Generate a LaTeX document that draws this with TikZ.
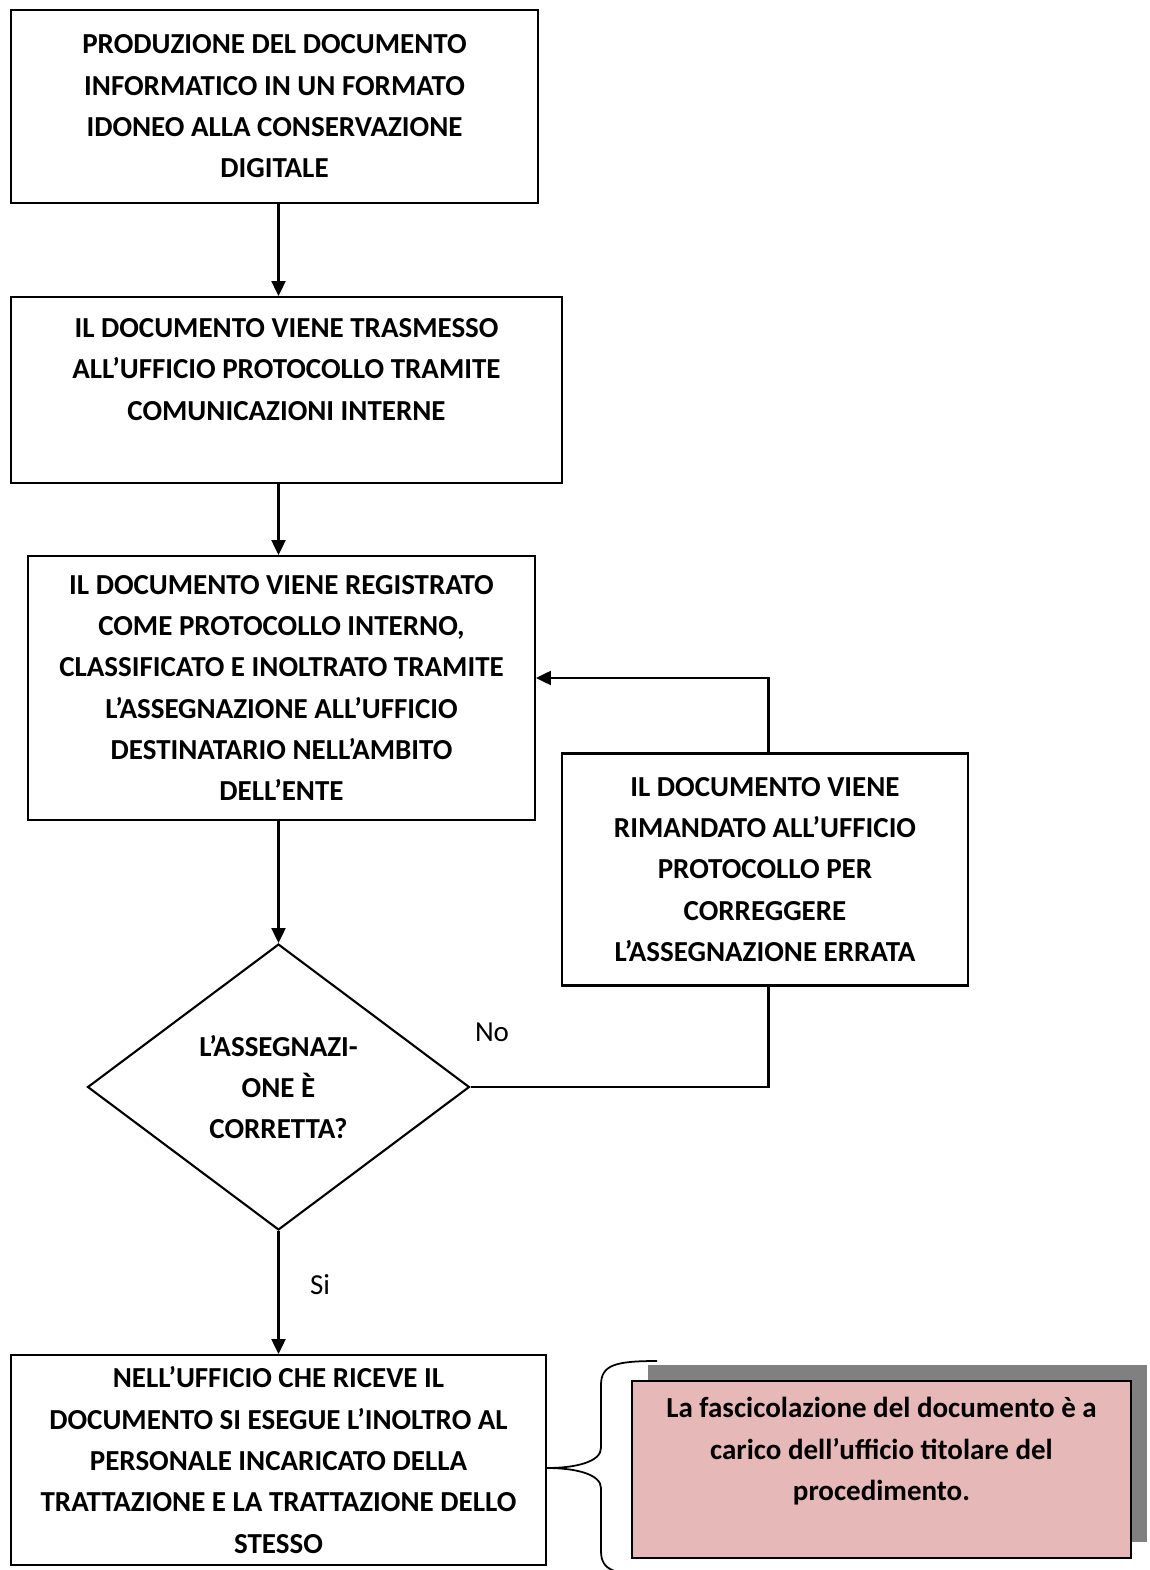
\documentclass[tikz,border=0pt]{standalone}
\usepackage{fontspec}
\setmainfont{Carlito}
\usepackage{tikz}
\usetikzlibrary{arrows.meta, shapes.geometric, shadows}

\definecolor{notepink}{HTML}{E6B8B7}
\definecolor{shadowgray}{HTML}{808080}

\begin{document}
\begin{tikzpicture}[x=0.02cm, y=-0.02cm, >={Triangle[length=8.5pt,width=8pt]},
  every node/.style={font=\fontsize{16.5}{23.5}\selectfont},
  stepbox/.style={draw, line width=1.2pt, align=center, inner sep=2pt,
    font=\fontsize{16.5}{23.5}\selectfont\bfseries},
  choice/.style={draw, diamond, line width=1.2pt, align=center, inner sep=0pt,
    aspect=1.336, font=\fontsize{16.5}{23.5}\selectfont\bfseries},
  flow/.style={->, line width=1.2pt}]

\useasboundingbox (0,0) rectangle (1150,1570);

% -------------------------------------------------------
% 1. Main sequence of steps
% -------------------------------------------------------
\node[stepbox, minimum width=10.54cm, minimum height=3.86cm] (prod) at (274.5,106.5)
  {PRODUZIONE DEL DOCUMENTO\\ INFORMATICO IN UN FORMATO\\ IDONEO ALLA CONSERVAZIONE\\ DIGITALE};
\node[stepbox, minimum width=11.02cm, minimum height=3.72cm] (trasm) at (286.5,390)
  {IL DOCUMENTO VIENE TRASMESSO\\ ALL’UFFICIO PROTOCOLLO TRAMITE\\ COMUNICAZIONI INTERNE\\ ~};
\node[stepbox, minimum width=10.14cm, minimum height=5.28cm] (reg) at (281.5,688)
  {IL DOCUMENTO VIENE REGISTRATO\\ COME PROTOCOLLO INTERNO,\\ CLASSIFICATO E INOLTRATO TRAMITE\\
   L’ASSEGNAZIONE ALL’UFFICIO\\ DESTINATARIO NELL’AMBITO\\ DELL’ENTE};
\node[choice, minimum width=7.64cm, minimum height=5.72cm] (check) at (278.5,1087)
  {L’ASSEGNAZI-\\ ONE È\\ CORRETTA?};
\node[stepbox, minimum width=10.7cm, minimum height=4.2cm] (tratt) at (278.5,1460)
  {NELL’UFFICIO CHE RICEVE IL\\ DOCUMENTO SI ESEGUE L’INOLTRO AL\\ PERSONALE INCARICATO DELLA\\
   TRATTAZIONE E LA TRATTAZIONE DELLO\\ STESSO};

% -------------------------------------------------------
% 2. Correction loop
% -------------------------------------------------------
\node[stepbox, minimum width=8.12cm, minimum height=4.64cm] (rim) at (765,869.5)
  {IL DOCUMENTO VIENE\\ RIMANDATO ALL’UFFICIO\\ PROTOCOLLO PER\\ CORREGGERE\\ L’ASSEGNAZIONE ERRATA};

\coordinate (spine) at (278.5,0);
\draw[flow] (spine |- prod.south) -- (spine |- trasm.north);
\draw[flow] (spine |- trasm.south) -- (spine |- reg.north);
\draw[flow] (spine |- reg.south) -- (check.north);
\draw[flow] (check.south) -- (tratt.north);
\draw[line width=1.2pt] (check.east) -| ([xshift=2pt]rim.south);
\draw[flow] ([xshift=2pt]rim.north) |- ([yshift=5.7pt]reg.east);

\node (no) at (492,1032) {No};
\node (si) at (320,1285) {Si};

% -------------------------------------------------------
% 3. Note with brace
% -------------------------------------------------------
\node[draw, line width=1.2pt, fill=notepink, align=center, minimum width=9.98cm, minimum height=3.54cm,
  font=\fontsize{16.5}{23.5}\selectfont\bfseries,
  drop shadow={shadow xshift=9pt, shadow yshift=9pt, fill=shadowgray, opacity=1}] (nota) at (881.5,1469.5)
  {La fascicolazione del documento è a\\ carico dell’ufficio titolare del\\ procedimento.\\ ~};

\draw[line width=1pt] (657,1361) .. controls (615,1361) and (601,1365) .. (601,1385) -- (601,1448)
  .. controls (601,1462) and (575,1468) .. (547,1468)
  .. controls (575,1468) and (601,1474) .. (601,1488) -- (601,1551)
  .. controls (601,1571) and (615,1575) .. (657,1575);

\end{tikzpicture}
\end{document}
